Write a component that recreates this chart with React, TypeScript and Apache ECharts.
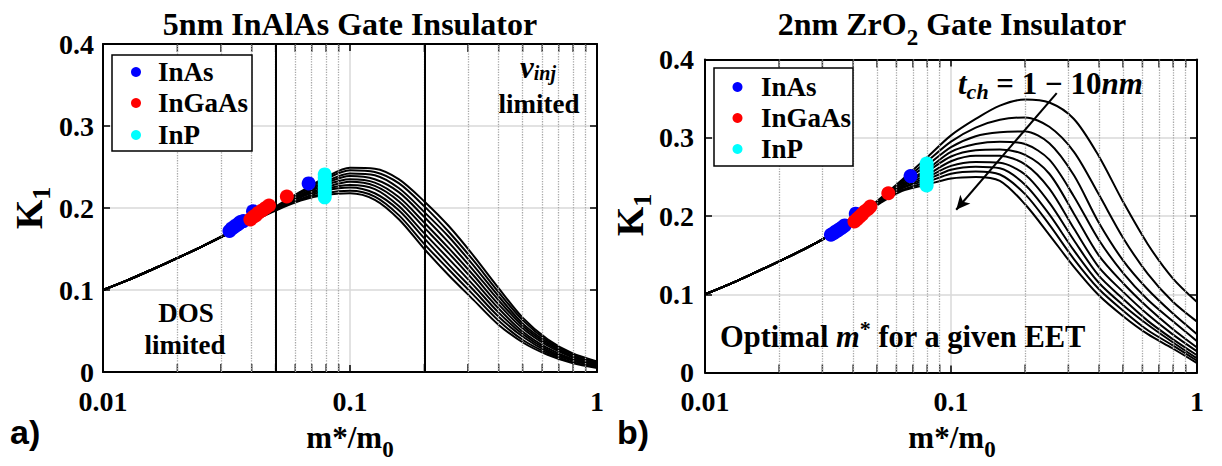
import React, { useEffect, useRef } from "react";
import * as echarts from "echarts";

// ---------- data (x sampled every 1/10 decade) ----------
const X_GRID = [0.01, 0.0126, 0.0158, 0.02, 0.0251, 0.0316, 0.0398, 0.0501, 0.0631, 0.0794, 0.1, 0.126, 0.158, 0.2, 0.251, 0.316, 0.398, 0.501, 0.631, 0.794, 1];

// Panel a: 5nm InAlAs, t_ch = 1..10 nm (top to bottom)
const aT1 = [0.100, 0.112, 0.125, 0.139, 0.153, 0.168, 0.185, 0.202, 0.220, 0.237, 0.249, 0.248, 0.235, 0.208, 0.178, 0.142, 0.103, 0.066, 0.040, 0.023, 0.013];
const aT2 = [0.100, 0.112, 0.125, 0.139, 0.153, 0.168, 0.185, 0.201, 0.219, 0.235, 0.246, 0.244, 0.230, 0.202, 0.171, 0.136, 0.098, 0.063, 0.038, 0.022, 0.012];
const aT3 = [0.100, 0.112, 0.125, 0.139, 0.153, 0.168, 0.185, 0.201, 0.218, 0.232, 0.242, 0.240, 0.224, 0.195, 0.165, 0.130, 0.093, 0.059, 0.036, 0.020, 0.011];
const aT4 = [0.100, 0.112, 0.125, 0.139, 0.153, 0.168, 0.184, 0.200, 0.216, 0.230, 0.239, 0.235, 0.219, 0.189, 0.158, 0.124, 0.088, 0.056, 0.034, 0.019, 0.010];
const aT5 = [0.100, 0.112, 0.125, 0.139, 0.153, 0.168, 0.184, 0.200, 0.215, 0.228, 0.235, 0.231, 0.213, 0.182, 0.151, 0.118, 0.083, 0.053, 0.032, 0.018, 0.009];
const aT6 = [0.100, 0.112, 0.125, 0.139, 0.153, 0.168, 0.184, 0.199, 0.214, 0.225, 0.232, 0.227, 0.208, 0.176, 0.145, 0.112, 0.078, 0.049, 0.029, 0.016, 0.009];
const aT7 = [0.100, 0.112, 0.125, 0.139, 0.153, 0.168, 0.184, 0.199, 0.213, 0.223, 0.228, 0.223, 0.202, 0.169, 0.138, 0.106, 0.073, 0.046, 0.027, 0.015, 0.008];
const aT8 = [0.100, 0.112, 0.125, 0.139, 0.153, 0.168, 0.183, 0.198, 0.211, 0.221, 0.225, 0.218, 0.197, 0.163, 0.131, 0.100, 0.068, 0.043, 0.025, 0.014, 0.007];
const aT9 = [0.100, 0.112, 0.125, 0.139, 0.153, 0.168, 0.183, 0.198, 0.210, 0.218, 0.221, 0.214, 0.191, 0.156, 0.125, 0.094, 0.063, 0.039, 0.023, 0.012, 0.006];
const aT10 = [0.100, 0.112, 0.125, 0.139, 0.153, 0.168, 0.183, 0.197, 0.209, 0.216, 0.218, 0.210, 0.186, 0.150, 0.118, 0.088, 0.058, 0.036, 0.021, 0.011, 0.005];

// Panel b: 2nm ZrO2, t_ch = 1..10 nm (top to bottom)
const bT1 = [0.100, 0.113, 0.127, 0.142, 0.157, 0.174, 0.193, 0.219, 0.246, 0.274, 0.303, 0.324, 0.341, 0.349, 0.345, 0.324, 0.277, 0.218, 0.164, 0.121, 0.090];
const bT2 = [0.100, 0.113, 0.127, 0.142, 0.157, 0.174, 0.193, 0.218, 0.244, 0.269, 0.295, 0.313, 0.323, 0.326, 0.314, 0.282, 0.228, 0.172, 0.126, 0.091, 0.065];
const bT3 = [0.100, 0.113, 0.127, 0.142, 0.157, 0.174, 0.193, 0.218, 0.243, 0.264, 0.288, 0.302, 0.307, 0.308, 0.293, 0.252, 0.192, 0.143, 0.106, 0.076, 0.049];
const bT4 = [0.100, 0.113, 0.127, 0.142, 0.157, 0.174, 0.193, 0.217, 0.241, 0.259, 0.282, 0.292, 0.295, 0.292, 0.272, 0.225, 0.170, 0.127, 0.093, 0.066, 0.040];
const bT5 = [0.100, 0.113, 0.127, 0.142, 0.157, 0.174, 0.193, 0.217, 0.239, 0.256, 0.276, 0.284, 0.285, 0.278, 0.254, 0.203, 0.150, 0.114, 0.083, 0.056, 0.032];
const bT6 = [0.100, 0.113, 0.127, 0.142, 0.157, 0.174, 0.193, 0.216, 0.238, 0.252, 0.270, 0.277, 0.277, 0.266, 0.235, 0.184, 0.135, 0.103, 0.074, 0.049, 0.027];
const bT7 = [0.100, 0.113, 0.127, 0.142, 0.157, 0.174, 0.193, 0.216, 0.236, 0.249, 0.264, 0.269, 0.268, 0.253, 0.217, 0.169, 0.124, 0.094, 0.066, 0.043, 0.022];
const bT8 = [0.100, 0.113, 0.127, 0.142, 0.157, 0.174, 0.193, 0.215, 0.235, 0.246, 0.259, 0.263, 0.261, 0.240, 0.202, 0.156, 0.115, 0.086, 0.061, 0.039, 0.018];
const bT9 = [0.100, 0.113, 0.127, 0.142, 0.157, 0.174, 0.193, 0.215, 0.233, 0.243, 0.254, 0.257, 0.253, 0.228, 0.189, 0.145, 0.107, 0.079, 0.054, 0.035, 0.015];
const bT10 = [0.100, 0.113, 0.127, 0.142, 0.157, 0.174, 0.193, 0.214, 0.232, 0.240, 0.248, 0.250, 0.245, 0.215, 0.176, 0.135, 0.099, 0.072, 0.049, 0.031, 0.012];

const inAsA = [[0.0325, 0.172], [0.0332, 0.175], [0.034, 0.177], [0.0347, 0.179], [0.0355, 0.181], [0.036, 0.183], [0.037, 0.184], [0.0405, 0.196], [0.068, 0.230]];
const inGaAsA = [[0.0395, 0.186], [0.0405, 0.189], [0.0415, 0.191], [0.0425, 0.194], [0.044, 0.197], [0.0455, 0.200], [0.047, 0.203], [0.0555, 0.214]];
const inPA = [[0.079, 0.213], [0.079, 0.217], [0.079, 0.221], [0.079, 0.225], [0.079, 0.229], [0.079, 0.233], [0.079, 0.237], [0.079, 0.241]];

const inAsB = [[0.0325, 0.176], [0.0333, 0.178], [0.034, 0.180], [0.0348, 0.182], [0.0356, 0.184], [0.0363, 0.186], [0.037, 0.188], [0.041, 0.203], [0.0685, 0.251]];
const inGaAsB = [[0.0405, 0.193], [0.0415, 0.196], [0.0425, 0.199], [0.0435, 0.202], [0.0447, 0.206], [0.046, 0.209], [0.047, 0.212], [0.0556, 0.229]];
const inPB = [[0.0796, 0.239], [0.0796, 0.243], [0.0796, 0.247], [0.0796, 0.251], [0.0796, 0.255], [0.0796, 0.259], [0.0796, 0.263], [0.0796, 0.267]];

const MINOR_X = [0.02, 0.03, 0.04, 0.05, 0.06, 0.07, 0.08, 0.09, 0.2, 0.3, 0.4, 0.5, 0.6, 0.7, 0.8, 0.9];
const REGION_LINES_A = [0.05, 0.2];
const ARROW_FROM = [0.269, 0.357];
const ARROW_TO = [0.105, 0.208];

const LEGEND_NAMES = ["InAs", "InGaAs", "InP"];
const COLORS = ["#0000ff", "#ff0000", "#00ffff"];

// ---------- helpers ----------
const SERIF = "'Liberation Serif', 'Times New Roman', serif";
const SANS = "'Liberation Sans', Arial, sans-serif";

let measureCtx: CanvasRenderingContext2D | null = null;
function fontStr(size: number, italic = false, fam = SERIF, weight = "bold") {
  return `${italic ? "italic " : ""}${weight} ${size}px ${fam}`;
}
function tw(text: string, font: string) {
  if (!measureCtx) measureCtx = document.createElement("canvas").getContext("2d");
  measureCtx!.font = font;
  return measureCtx!.measureText(text).width;
}

type Piece = { t: string; size: number; italic?: boolean; dy?: number; fam?: string };
function textRun(x: number, y: number, pieces: Piece[], align: "center" | "left" = "center", rotation = 0, z = 50) {
  const widths = pieces.map((p) => tw(p.t, fontStr(p.size, p.italic, p.fam)));
  const total = widths.reduce((a, b) => a + b, 0);
  let cur = align === "center" ? -total / 2 : 0;
  const children = pieces.map((p, i) => {
    const el = {
      type: "text",
      x: cur,
      y: p.dy || 0,
      z,
      style: {
        text: p.t,
        font: fontStr(p.size, p.italic, p.fam),
        fill: "#000",
        textAlign: "left",
        align: "left",
        textVerticalAlign: "middle",
        verticalAlign: "middle",
      },
    };
    cur += widths[i];
    return el;
  });
  return { type: "group", x, y, rotation, z, children };
}

function legendBox(x: number, y: number, w: number, h: number, markerX: number, textX: number, rows: number[]) {
  const els: any[] = [
    { type: "rect", z: 60, shape: { x, y, width: w, height: h }, style: { fill: "#fff", stroke: "#000", lineWidth: 1.5 } },
  ];
  LEGEND_NAMES.forEach((n, i) => {
    els.push({ type: "circle", z: 61, shape: { cx: markerX, cy: rows[i], r: 5 }, style: { fill: COLORS[i] } });
    els.push({
      type: "text",
      z: 61,
      x: textX,
      y: rows[i],
      style: { text: n, font: fontStr(27), fill: "#000", textAlign: "left", align: "left", textVerticalAlign: "middle", verticalAlign: "middle" },
    });
  });
  return els;
}

function logLabel(v: number) {
  const r = Math.round(Math.log10(v));
  return r >= 0 ? String(Math.pow(10, r)) : Math.pow(10, r).toFixed(-r);
}

function xAxes(gridIndex: number) {
  const common = {
    type: "log",
    logBase: 10,
    gridIndex,
    min: 0.01,
    max: 1,
    axisLine: { show: true, onZero: false, lineStyle: { color: "#000", width: 2 } },
    axisTick: { show: true, inside: true, length: 7, lineStyle: { color: "#000", width: 1.5 } },
  };
  return [
    {
      ...common,
      position: "bottom",
      axisLabel: { fontFamily: SERIF, fontWeight: "bold", fontSize: 28, color: "#000", margin: 15, formatter: logLabel },
      splitLine: { show: true, lineStyle: { color: "#d8d8d8", width: 1.5 } },
    },
    { ...common, position: "top", axisLabel: { show: false }, splitLine: { show: false } },
  ];
}
function yAxes(gridIndex: number, margin: number) {
  const common = {
    type: "value",
    gridIndex,
    min: 0,
    max: 0.4,
    interval: 0.1,
    axisLine: { show: true, onZero: false, lineStyle: { color: "#000", width: 2 } },
    axisTick: { show: true, inside: true, length: 7, lineStyle: { color: "#000", width: 1.5 } },
  };
  return [
    {
      ...common,
      position: "left",
      axisLabel: {
        fontFamily: SERIF,
        fontWeight: "bold",
        fontSize: 28,
        color: "#000",
        margin,
        formatter: (v: number) => (v === 0 ? "0" : v.toFixed(1)),
      },
      splitLine: { show: true, lineStyle: { color: "#d8d8d8", width: 1.5 } },
    },
    { ...common, position: "right", axisLabel: { show: false }, splitLine: { show: false } },
  ];
}

function curveSeries(xs: number[], curves: number[][], xi: number, yi: number, tag: string) {
  return curves.map((c, k) => ({
    type: "line",
    name: `${tag} t_ch=${k + 1}nm`,
    xAxisIndex: xi,
    yAxisIndex: yi,
    data: xs.map((x, i) => [x, c[i]]),
    smooth: 0.3,
    showSymbol: false,
    silent: true,
    z: 3,
    lineStyle: { color: "#000", width: 2 },
  }));
}

function scatterSeries(sets: number[][][], xi: number, yi: number) {
  return sets.map((d, i) => ({
    type: "scatter",
    name: LEGEND_NAMES[i],
    xAxisIndex: xi,
    yAxisIndex: yi,
    data: d,
    symbolSize: 14,
    silent: true,
    z: 5 + i,
    itemStyle: { color: COLORS[i], opacity: 1 },
  }));
}

function decoSeries(xi: number, yi: number, extraMarkLines: any[] = []) {
  const s: any[] = [
    {
      type: "line",
      xAxisIndex: xi,
      yAxisIndex: yi,
      data: [],
      silent: true,
      z: 1,
      markLine: {
        silent: true,
        symbol: "none",
        animation: false,
        label: { show: false },
        lineStyle: { type: "dotted", color: "#a8a8a8", width: 1.3 },
        data: MINOR_X.map((v) => ({ xAxis: v })),
      },
    },
    {
      type: "scatter",
      xAxisIndex: xi,
      yAxisIndex: yi,
      data: MINOR_X.map((v) => [v, 0]),
      symbol: "rect",
      symbolSize: [1.5, 8],
      symbolOffset: [0, -4],
      silent: true,
      z: 4,
      itemStyle: { color: "#000" },
    },
    {
      type: "scatter",
      xAxisIndex: xi,
      yAxisIndex: yi,
      data: MINOR_X.map((v) => [v, 0.4]),
      symbol: "rect",
      symbolSize: [1.5, 8],
      symbolOffset: [0, 4],
      silent: true,
      z: 4,
      itemStyle: { color: "#000" },
    },
  ];
  extraMarkLines.forEach((ml) =>
    s.push({ type: "line", xAxisIndex: xi, yAxisIndex: yi, data: [], silent: true, z: 4, markLine: ml })
  );
  return s;
}

export default function App() {
  const ref = useRef<HTMLDivElement>(null);
  useEffect(() => {
    document.body.style.margin = "0";
    if (!ref.current) return;
    const chart = echarts.init(ref.current, undefined, { renderer: "svg" });

    const graphics: any[] = [
      textRun(350, 24, [{ t: "5nm InAlAs Gate Insulator", size: 32 }]),
      textRun(952, 24, [
        { t: "2nm ZrO", size: 32 },
        { t: "2", size: 23, dy: 13 },
        { t: " Gate Insulator", size: 32 },
      ]),
      textRun(29, 208, [{ t: "K", size: 38 }, { t: "1", size: 26, dy: 12 }], "center", Math.PI / 2),
      textRun(630, 215, [{ t: "K", size: 38 }, { t: "1", size: 26, dy: 12 }], "center", Math.PI / 2),
      textRun(350, 437, [{ t: "m*/m", size: 31 }, { t: "0", size: 23, dy: 12 }]),
      textRun(952, 437, [{ t: "m*/m", size: 31 }, { t: "0", size: 23, dy: 12 }]),
      textRun(10, 432, [{ t: "a)", size: 34, fam: SANS }], "left"),
      textRun(617, 432, [{ t: "b)", size: 34, fam: SANS }], "left"),
      textRun(186, 313, [{ t: "DOS", size: 27 }]),
      textRun(185, 345, [{ t: "limited", size: 27 }]),
      textRun(538, 67, [{ t: "v", size: 31, italic: true }, { t: "inj", size: 20, italic: true, dy: 6 }]),
      textRun(539, 104, [{ t: "limited", size: 27 }]),
      textRun(958, 83, [
        { t: "t", size: 31, italic: true },
        { t: "ch", size: 22, italic: true, dy: 8 },
        { t: " = 1 \u2212 10", size: 31 },
        { t: "nm", size: 31, italic: true },
      ], "left"),
      textRun(720, 337, [
        { t: "Optimal ", size: 30.5 },
        { t: "m", size: 30.5, italic: true },
        { t: "*", size: 22, dy: -9 },
        { t: " for a given EET", size: 30.5 },
      ], "left"),
      ...legendBox(112, 55, 140, 96, 136, 158, [72, 103, 135]),
      ...legendBox(714, 68, 139, 98, 737.5, 761, [87, 118, 149]),
    ];

    const regionLines = {
      silent: true,
      symbol: "none",
      animation: false,
      label: { show: false },
      lineStyle: { type: "solid", color: "#000", width: 2 },
      data: REGION_LINES_A.map((v) => ({ xAxis: v })),
    };
    const arrow = {
      silent: true,
      symbol: ["none", "arrow"],
      symbolSize: [10, 14],
      animation: false,
      label: { show: false },
      lineStyle: { type: "solid", color: "#000", width: 2 },
      data: [[{ coord: ARROW_FROM }, { coord: ARROW_TO }]],
    };

    chart.setOption({
      animation: false,
      backgroundColor: "#fff",
      grid: [
        { left: 103, top: 44, width: 494, height: 328 },
        { left: 705, top: 59.5, width: 492, height: 313 },
      ],
      xAxis: [...xAxes(0), ...xAxes(1)],
      yAxis: [...yAxes(0, 9), ...yAxes(1, 11)],
      series: [
        ...decoSeries(0, 0, [regionLines]),
        ...decoSeries(2, 2, [arrow]),
        ...curveSeries(X_GRID, [aT1, aT2, aT3, aT4, aT5, aT6, aT7, aT8, aT9, aT10], 0, 0, "InAlAs"),
        ...curveSeries(X_GRID, [bT1, bT2, bT3, bT4, bT5, bT6, bT7, bT8, bT9, bT10], 2, 2, "ZrO2"),
        ...scatterSeries([inAsA, inGaAsA, inPA], 0, 0),
        ...scatterSeries([inAsB, inGaAsB, inPB], 2, 2),
      ],
      graphic: { elements: graphics },
    });
    return () => chart.dispose();
  }, []);
  return <div ref={ref} style={{ width: 1222, height: 466 }} />;
}
